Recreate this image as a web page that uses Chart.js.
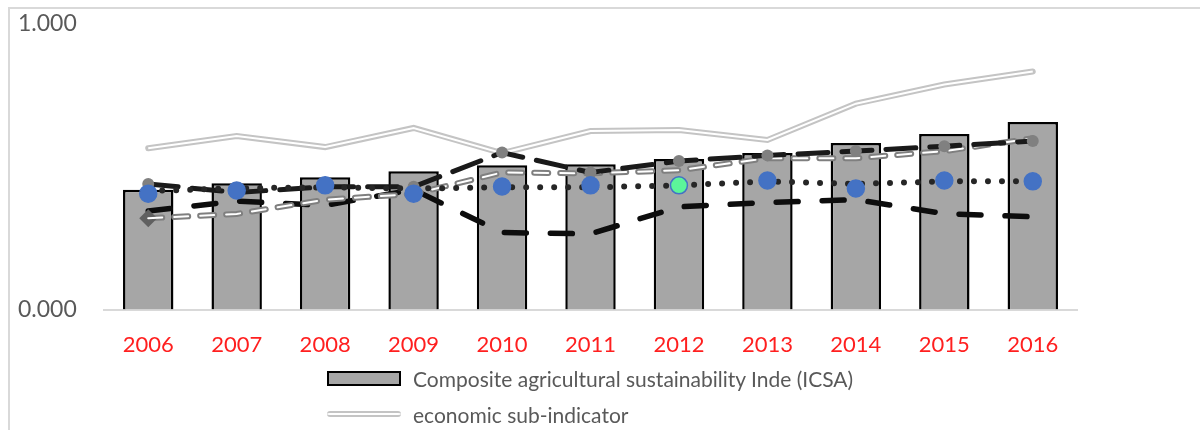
<!DOCTYPE html>
<html>
<head>
<meta charset="utf-8">
<script src="https://cdn.jsdelivr.net/npm/chart.js@4"></script>
<style>
  html, body { margin: 0; padding: 0; background: #fff; overflow: hidden; }
  #wrap { position: relative; width: 1200px; height: 430px; }
  #frame { position: absolute; left: 8px; top: 7px; width: 1300px; height: 600px; border: 2px solid #d9d9d9; box-sizing: border-box; }
  #legend { position: absolute; left: 327px; top: 360px; font-family: Lato, sans-serif; font-size: 21px; color: #595959; }
  .item { display: flex; align-items: center; height: 36px; white-space: nowrap; }
  .swatch { width: 74px; margin-right: 12px; box-sizing: border-box; }
</style>
</head>
<body>
<div id="wrap">
  <div id="frame"></div>
  <canvas id="chart" width="1200" height="430"></canvas>
  <div id="legend"></div>
</div>
<script>
const years = ['2006', '2007', '2008', '2009', '2010', '2011', '2012', '2013', '2014', '2015', '2016'];
const icsa = [0.420, 0.442, 0.463, 0.484, 0.505, 0.509, 0.527, 0.548, 0.583, 0.615, 0.657];
const economic = [0.565, 0.608, 0.569, 0.636, 0.548, 0.625, 0.629, 0.594, 0.721, 0.788, 0.834];
const dottedSeries = [0.415, 0.425, 0.428, 0.424, 0.428, 0.428, 0.435, 0.449, 0.440, 0.449, 0.449];
const blueMarkers = [0.406, 0.417, 0.435, 0.406, 0.431, 0.435, 0.435, 0.452, 0.424, 0.452, 0.449];
const dashUpper = [0.440, 0.410, 0.430, 0.430, 0.550, 0.480, 0.520, 0.540, 0.555, 0.572, 0.590];
const dashHollow = [0.320, 0.335, 0.385, 0.405, 0.480, 0.477, 0.488, 0.530, 0.530, 0.555, 0.600];
const dashLower = [0.345, 0.380, 0.365, 0.420, 0.270, 0.265, 0.360, 0.375, 0.385, 0.336, 0.325];

const ctx = document.getElementById('chart');

const markerColors = years.map(function(y) { return y === '2012' ? '#5cf59a' : '#4472c4'; });
const diamondSize = years.map(function(y, i) { return i === 0 ? 9 : 0; });

const chart = new Chart(ctx, {
    data: {
        labels: years,
        datasets: [
        {
            type: 'line',
            label: 'markers',
            data: blueMarkers,
            showLine: false,
            pointRadius: 8.5,
            pointBackgroundColor: markerColors,
            pointBorderColor: '#4472c4',
            pointBorderWidth: 1.5,
            order: 0
        },
        {
            type: 'line',
            label: 'dotted',
            data: dottedSeries,
            borderColor: '#262626',
            borderWidth: 6,
            borderDash: [0, 14],
            borderCapStyle: 'round',
            pointRadius: 0,
            fill: false,
            order: 1
        },
        {
            type: 'line',
            label: 'dash upper',
            data: dashUpper,
            borderColor: '#1a1a1a',
            borderWidth: 5,
            borderDash: [30, 14],
            borderCapStyle: 'round',
            pointRadius: 6,
            pointBackgroundColor: '#808080',
            pointBorderWidth: 0,
            fill: false,
            order: 2
        },
        {
            type: 'line',
            label: 'dash hollow core',
            data: dashHollow,
            borderColor: '#ffffff',
            borderWidth: 2,
            borderDash: [14, 12],
            borderCapStyle: 'round',
            pointRadius: 0,
            fill: false,
            order: 3
        },
        {
            type: 'line',
            label: 'dash hollow',
            data: dashHollow,
            borderColor: '#7f7f7f',
            borderWidth: 6,
            borderDash: [14, 12],
            borderCapStyle: 'round',
            pointStyle: 'rectRot',
            pointRadius: diamondSize,
            pointBackgroundColor: '#606060',
            pointBorderWidth: 0,
            fill: false,
            order: 4
        },
        {
            type: 'line',
            label: 'dash lower',
            data: dashLower,
            borderColor: '#0d0d0d',
            borderWidth: 5.5,
            borderDash: [22, 24],
            borderCapStyle: 'round',
            pointRadius: 0,
            fill: false,
            order: 5
        },
        {
            type: 'line',
            label: 'economic core',
            data: economic,
            borderColor: '#ffffff',
            borderWidth: 2,
            pointRadius: 0,
            fill: false,
            order: 6
        },
        {
            type: 'line',
            label: 'economic sub-indicator',
            data: economic,
            borderColor: '#c4c4c4',
            borderWidth: 6,
            borderCapStyle: 'round',
            pointRadius: 0,
            fill: false,
            order: 7,
            legendSwatch: 'line'
        },
        {
            type: 'bar',
            label: 'Composite agricultural sustainability Inde (ICSA)',
            data: icsa,
            backgroundColor: '#a6a6a6',
            borderColor: '#000000',
            borderWidth: 2.5,
            barPercentage: 0.57,
            categoryPercentage: 1,
            order: 8,
            legendSwatch: 'box'
        }
        ]
    },
    options: {
        responsive: false,
        animation: false,
        layout: { padding: { left: 18, right: 123, top: 24, bottom: 50 } },
        plugins: {
            legend: { display: false },
            tooltip: { enabled: false }
        },
        scales: {
            x: {
                grid: { display: false, drawTicks: false },
                border: { display: true, color: '#d9d9d9', width: 2 },
                ticks: {
                    color: '#ff1f1f',
                    padding: 22,
                    font: { family: 'Lato', size: 22 }
                }
            },
            y: {
                min: 0,
                max: 1,
                grid: { display: false, drawTicks: false },
                border: { display: false },
                afterFit: function(scale) { scale.width = 86; },
                ticks: {
                    stepSize: 1,
                    crossAlign: 'far',
                    color: '#595959',
                    font: { family: 'Lato', size: 23 },
                    callback: function(v) { return v.toFixed(3); }
                }
            }
        }
    }
});

// html legend, only the two entries visible in the original
const legendEl = document.getElementById('legend');
const shown = chart.data.datasets.filter(function(d) { return d.legendSwatch; }).reverse();
shown.forEach(function(d) {
    const row = document.createElement('div');
    row.className = 'item';
    const sw = document.createElement('div');
    sw.className = 'swatch';
    if (d.legendSwatch === 'box') {
        sw.style.height = '15px';
        sw.style.background = d.backgroundColor;
        sw.style.border = '2.5px solid ' + d.borderColor;
    } else {
        sw.style.height = '6px';
        sw.style.background = '#ffffff';
        sw.style.borderTop = '2px solid ' + d.borderColor;
        sw.style.borderBottom = '2px solid ' + d.borderColor;
        sw.style.borderRadius = '3px';
    }
    const txt = document.createElement('span');
    txt.textContent = d.label;
    row.appendChild(sw);
    row.appendChild(txt);
    legendEl.appendChild(row);
});
</script>
</body>
</html>
